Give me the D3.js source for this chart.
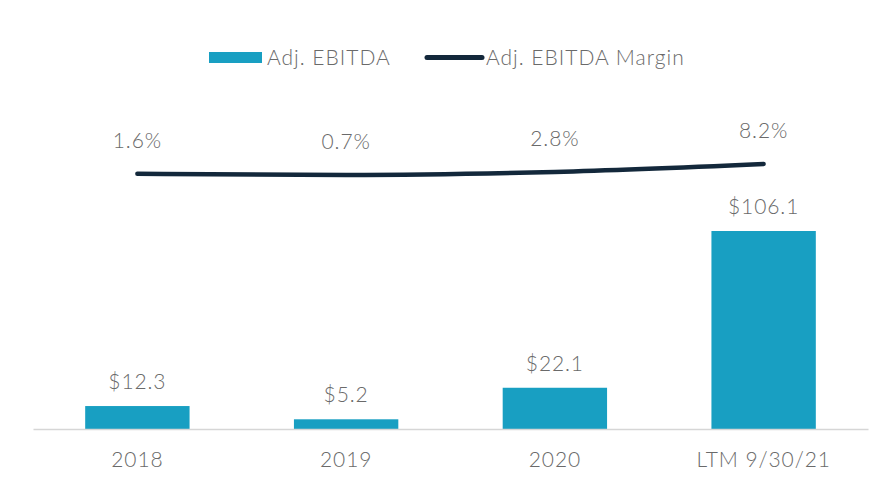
<!DOCTYPE html>
<html>
<head>
<meta charset="utf-8">
<script src="https://cdn.jsdelivr.net/npm/d3@7"></script>
<style>
  html, body { margin: 0; padding: 0; background: #ffffff; }
  svg { display: block; }
  text { font-family: Lato, "Open Sans", sans-serif; font-weight: 300; fill: #6a6a6a; letter-spacing: 0.9px; }
</style>
</head>
<body>
<svg id="chart" width="886" height="492"></svg>
<script>
const categories = ["2018", "2019", "2020", "LTM 9/30/21"];
const ebitda = [12.3, 5.2, 22.1, 106.1];
const ebitdaLabels = ["$12.3", "$5.2", "$22.1", "$106.1"];
const margin = [1.6, 0.7, 2.8, 8.2];
const marginLabels = ["1.6%", "0.7%", "2.8%", "8.2%"];
const seriesNames = ["Adj. EBITDA", "Adj. EBITDA Margin"];

const BAR = "#189fc2";
const LINE = "#13283b";

const svg = d3.select("#chart");

const x = d3.scaleBand().domain(categories).range([33, 868]).paddingInner(0.5).paddingOuter(0.25);
const yBar = d3.scaleLinear().domain([0, 106.1]).range([429, 231]);
const yLine = d3.scaleLinear().domain([0, 8.2]).range([176, 164]);

// bars
svg.selectAll("rect.bar").data(categories).join("rect")
  .attr("class", "bar")
  .attr("x", d => x(d))
  .attr("width", x.bandwidth())
  .attr("y", (d, i) => yBar(ebitda[i]))
  .attr("height", (d, i) => yBar(0) - yBar(ebitda[i]))
  .attr("fill", BAR);

// baseline axis
const xAxis = d3.axisBottom(x).tickSize(0).tickPadding(23);
const gx = svg.append("g").attr("transform", `translate(0,${yBar(0)})`).call(xAxis);
gx.select(".domain").attr("stroke", "#d6d6d6").attr("stroke-width", 1.5);
gx.selectAll(".tick text")
  .style("font-family", "Lato, sans-serif").style("font-weight", "300")
  .style("font-size", "21px").style("letter-spacing", "0.9px").attr("fill", "#6a6a6a");

// bar labels
svg.selectAll("text.blab").data(categories).join("text")
  .attr("class", "blab")
  .attr("x", d => x(d) + x.bandwidth() / 2)
  .attr("y", (d, i) => yBar(ebitda[i]) - 17)
  .attr("text-anchor", "middle")
  .style("font-size", "21px")
  .text((d, i) => ebitdaLabels[i]);

// margin line
const line = d3.line()
  .x((d, i) => x(categories[i]) + x.bandwidth() / 2)
  .y(d => yLine(d))
  .curve(d3.curveMonotoneX);
svg.append("path").datum(margin)
  .attr("d", line)
  .attr("fill", "none")
  .attr("stroke", LINE)
  .attr("stroke-width", 4.5)
  .attr("stroke-linecap", "round");

svg.selectAll("text.llab").data(categories).join("text")
  .attr("class", "llab")
  .attr("x", d => x(d) + x.bandwidth() / 2)
  .attr("y", (d, i) => yLine(margin[i]) - 26)
  .attr("text-anchor", "middle")
  .style("font-size", "21px")
  .text((d, i) => marginLabels[i]);

// legend
const lg = svg.append("g");
lg.append("rect").attr("x", 209).attr("y", 52).attr("width", 53).attr("height", 11).attr("fill", BAR);
lg.append("text").attr("x", 267).attr("y", 64.5).style("font-size", "21px").style("letter-spacing", "1px").text(seriesNames[0]);
lg.append("line").attr("x1", 427).attr("x2", 482).attr("y1", 57.5).attr("y2", 57.5)
  .attr("stroke", LINE).attr("stroke-width", 5).attr("stroke-linecap", "round");
lg.append("text").attr("x", 486).attr("y", 64.5).style("font-size", "21px").style("letter-spacing", "1px").text(seriesNames[1]);
</script>
</body>
</html>
